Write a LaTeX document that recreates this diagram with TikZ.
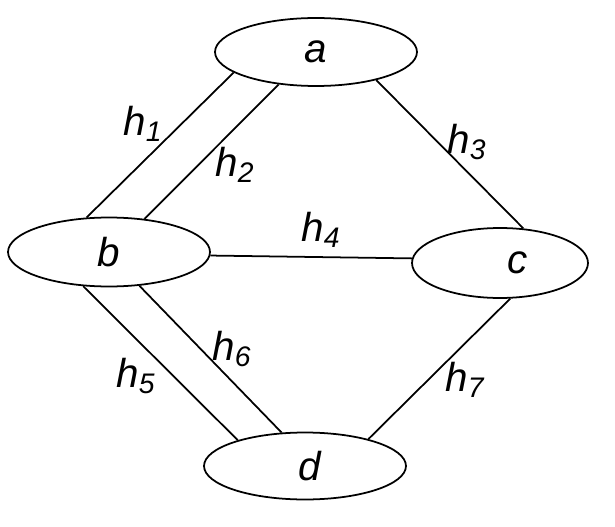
\documentclass[tikz,border=0pt]{standalone}
\usepackage{fontspec}
\setmainfont{Liberation Sans}
\usepackage{tikz}
\usetikzlibrary{shapes.geometric}
\newcommand{\vfont}{\fontsize{23}{27}\selectfont\itshape}
\newcommand{\hlab}[1]{h\textsubscript{#1}}
\tikzset{
  vertex/.style={ellipse, draw, line width=1pt, inner sep=0pt,
    minimum width=4.04cm, minimum height=1.36cm, font=\vfont},
  edge/.style={line width=1pt},
  lbl/.style={inner sep=0pt, font=\vfont}
}
\begin{document}
\begin{tikzpicture}[x=0.02cm, y=-0.02cm]
  \useasboundingbox (0,0) rectangle (615,527);

  % vertices (letters sit a little off centre, as in the drawing)
  \node[vertex] (a) at (316,52) {a};
  \node[vertex, minimum height=1.38cm] (b) at (109,252) {b\hspace{0.5cm}};
  \node[vertex, minimum width=3.52cm, minimum height=1.40cm] (c) at (500,263) {\hspace{0.7cm}c};
  \node[vertex, minimum height=1.34cm] (d) at (305,466) {\hspace{0.2cm}d};

  % edges
  \draw[edge] (b.123) -- (a.194);
  \draw[edge] (b.43) -- (a.221);
  \draw[edge] (a.335) -- (c.56);
  \draw[edge] (b.358) -- (c.177);
  \draw[edge] (b.233) -- (d.159);
  \draw[edge] (b.312) -- (d.125);
  \draw[edge] (c.286) -- (d.23);

  % labels
  \node[lbl] (l1) at (143,124) {\hlab{1}};
  \node[lbl] (l2) at (235,165) {\hlab{2}};
  \node[lbl] (l3) at (467,142) {\hlab{3}};
  \node[lbl] (l4) at (321,230) {\hlab{4}};
  \node[lbl] (l5) at (136,376) {\hlab{5}};
  \node[lbl] (l6) at (232,349) {\hlab{6}};
  \node[lbl] (l7) at (465,380) {\hlab{7}};
\end{tikzpicture}
\end{document}
